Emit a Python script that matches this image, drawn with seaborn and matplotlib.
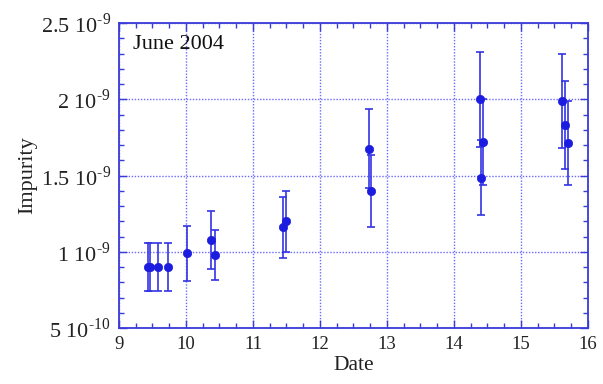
import matplotlib
matplotlib.use("Agg")
import matplotlib.pyplot as plt
import pandas as pd
import seaborn as sns
from matplotlib.ticker import FixedLocator, MultipleLocator

# Readings (impurity in units of 1e-9)
dates = [9.43, 9.46, 9.59, 9.73, 10.02, 10.38, 10.43, 11.45, 11.49,
         12.73, 12.76, 14.39, 14.40, 14.44, 15.62, 15.66, 15.71]
impurity = [0.90, 0.90, 0.90, 0.90, 0.99, 1.08, 0.98, 1.16, 1.20,
            1.676, 1.40, 2.00, 1.485, 1.72, 1.99, 1.83, 1.715]
errors = [0.16, 0.16, 0.16, 0.16, 0.18, 0.19, 0.165, 0.20, 0.20,
          0.26, 0.235, 0.31, 0.245, 0.285, 0.31, 0.29, 0.275]

y_ticks = [0.5e-9, 1.0e-9, 1.5e-9, 2.0e-9, 2.5e-9]
y_tick_labels = ["5 10$^{\u201010}$", "1 10$^{\u20109}$", "1.5 10$^{\u20109}$",
                 "2 10$^{\u20109}$", "2.5 10$^{\u20109}$"]
x_ticks = [9, 10, 11, 12, 13, 14, 15, 16]

df = pd.DataFrame({
    "Date": dates,
    "Impurity": [v * 1e-9 for v in impurity],
    "err": [e * 1e-9 for e in errors],
})

sns.set_style("white")
plt.rcParams["font.family"] = ["Liberation Serif", "DejaVu Serif"]
plt.rcParams["mathtext.fontset"] = "custom"
plt.rcParams["mathtext.rm"] = "Liberation Serif"

frame_blue = "#3a3ad8"
mark_blue = "#1c1ce0"
bar_blue = "#3434e4"
grid_blue = "#6a6aff"
text_col = "#222222"

fig = plt.figure(figsize=(6.03, 3.84), dpi=100)
ax = fig.add_axes([0.1973, 0.1458, 0.7777, 0.7942])

ax.errorbar(df["Date"], df["Impurity"], yerr=df["err"], fmt="none",
            ecolor=bar_blue, elinewidth=1.2, capsize=2.8, capthick=1.2, zorder=2)
sns.scatterplot(data=df, x="Date", y="Impurity", ax=ax, color=mark_blue,
                s=36, edgecolor=mark_blue, linewidth=0.5, zorder=3, legend=False)

ax.set_xlim(9, 16)
ax.set_ylim(0.5e-9, 2.5e-9)
ax.xaxis.set_major_locator(FixedLocator(x_ticks))
ax.xaxis.set_minor_locator(MultipleLocator(0.25))
ax.yaxis.set_major_locator(FixedLocator(y_ticks))
ax.yaxis.set_minor_locator(MultipleLocator(1e-10))
ax.set_xticklabels([str(t) for t in x_ticks])
ax.set_yticklabels(y_tick_labels)

ax.grid(True, which="major", color=grid_blue, linestyle=(0, (1, 1.2)), linewidth=1.0)
ax.set_axisbelow(True)

for side in ax.spines.values():
    side.set_color(frame_blue)
    side.set_linewidth(1.3)

ax.tick_params(which="both", direction="in", top=True, right=True,
               bottom=True, left=True, color=frame_blue, width=1.0)
ax.tick_params(which="major", length=6, pad=6, labelcolor=text_col)
ax.tick_params(axis="x", which="major", labelsize=13.5)
ax.tick_params(axis="y", which="major", labelsize=16)
ax.tick_params(which="minor", length=3.5)

ax.set_xlabel("Date", fontsize=15.5, color=text_col, labelpad=2)
ax.set_ylabel("Impurity", fontsize=16, color=text_col, labelpad=2)

ax.text(0.03, 0.928, "June 2004", transform=ax.transAxes, fontsize=16,
        va="center", ha="left", color="#111111")

fig.savefig("out.png", dpi=100, facecolor="white")
